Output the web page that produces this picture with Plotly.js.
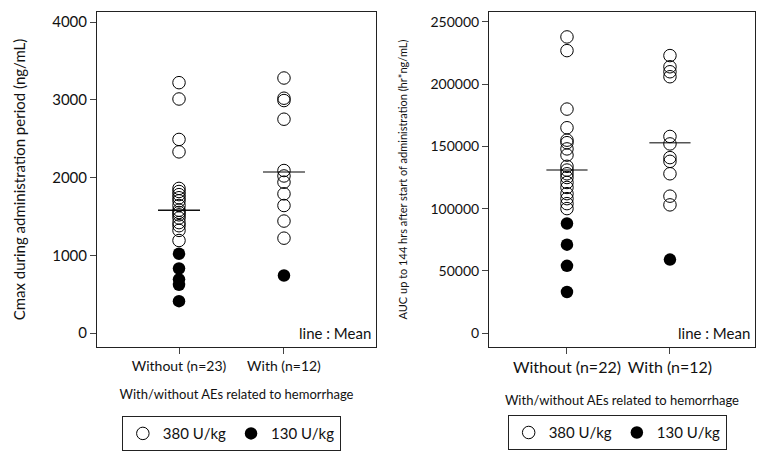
<!DOCTYPE html>
<html>
<head>
<meta charset="utf-8">
<script src="https://cdn.plot.ly/plotly-3.0.1.min.js"></script>
<style>
html, body { margin: 0; padding: 0; background: #fff; }
#chart { width: 761px; height: 456px; }
</style>
</head>
<body>
<div id="chart"></div>
<script>
// category labels
var cmaxCats = ['Without (n=23)', 'With (n=12)'];
var aucCats = ['Without (n=22)', 'With (n=12)'];
var doseNames = ['380 U/kg', '130 U/kg'];

// Cmax (ng/mL)
var cmaxWithout380 = [3220, 3010, 2490, 2330, 1860, 1820, 1780, 1740, 1700, 1640, 1580, 1550, 1520, 1480, 1420, 1380, 1320, 1190];
var cmaxWithout130 = [1020, 830, 690, 620, 410];
var cmaxWith380 = [3280, 3020, 2990, 2750, 2090, 2020, 1940, 1790, 1640, 1440, 1220];
var cmaxWith130 = [740];
var cmaxMean = [1580, 2070];

// AUC 0-144h (hr*ng/mL)
var aucWithout380 = [238000, 227000, 180000, 165000, 155000, 153000, 148000, 143000, 134000, 131000, 128000, 125000, 121000, 117000, 112000, 108000, 104000, 100000];
var aucWithout130 = [88000, 71000, 54000, 33000];
var aucWith380 = [223000, 214000, 210000, 206000, 158000, 152000, 141000, 138000, 128000, 110000, 103000];
var aucWith130 = [59000];
var aucMean = [131000, 153000];

var FONT = 'Lato, "Open Sans", sans-serif';

function xsFor(idx, vals){
	return vals.map(function(){ return idx; });
}

function pointTraces(xa, ya, legendId, open0, filled0, open1, filled1){
	var traces = [];
	traces.push({
		x: xsFor(0, open0).concat(xsFor(1, open1)),
		y: open0.concat(open1),
		xaxis: xa, yaxis: ya,
		type: 'scatter', mode: 'markers',
		name: doseNames[0],
		legend: legendId,
		marker: { symbol: 'circle-open', size: 12.5, color: '#000', line: { width: 1, color: '#000' } }
	});
	traces.push({
		x: xsFor(0, filled0).concat(xsFor(1, filled1)),
		y: filled0.concat(filled1),
		xaxis: xa, yaxis: ya,
		type: 'scatter', mode: 'markers',
		name: doseNames[1],
		legend: legendId,
		marker: { symbol: 'circle', size: 12.5, color: '#000' }
	});
	return traces;
}

// short horizontal segment at each group mean
function meanTraces(xa, ya, means, colors){
	return means.map(function(m, i){
		return {
			x: [i - 0.2, i + 0.2],
			y: [m, m],
			xaxis: xa, yaxis: ya,
			type: 'scatter', mode: 'lines',
			showlegend: false,
			hoverinfo: 'skip',
			line: { color: colors[i], width: 1.5 }
		};
	});
}

var data = []
	.concat(meanTraces('x', 'y', cmaxMean, ['#111', '#555']))
	.concat(pointTraces('x', 'y', 'legend', cmaxWithout380, cmaxWithout130, cmaxWith380, cmaxWith130))
	.concat(meanTraces('x2', 'y2', aucMean, ['#555', '#555']))
	.concat(pointTraces('x2', 'y2', 'legend2', aucWithout380, aucWithout130, aucWith380, aucWith130));

var boxAxis = {
	showline: true, mirror: true, linecolor: '#222', linewidth: 1,
	showgrid: false, zeroline: false,
	ticks: 'outside', ticklen: 6, tickcolor: '#444',
	tickfont: { family: FONT, size: 15, color: '#111' }
};

function axis(extra){
	return Object.assign({}, boxAxis, extra);
}

var xTitle = 'With/without AEs related to hemorrhage';

var legendBase = {
	orientation: 'h',
	font: { family: FONT, size: 15, color: '#111' },
	bordercolor: '#222', borderwidth: 1,
	bgcolor: '#fff',
	xanchor: 'center', yanchor: 'middle',
	itemwidth: 30, tracegroupgap: 0
};

var layout = {
	width: 761, height: 456,
	margin: { l: 0, r: 0, t: 0, b: 0 },
	paper_bgcolor: '#fff', plot_bgcolor: '#fff',
	font: { family: FONT, color: '#111' },
	xaxis: axis({
		domain: [0.1275, 0.494], range: [-0.781, 1.876],
		tickvals: [0, 1], ticktext: cmaxCats,
		tickfont: { family: FONT, size: 14, color: '#111' },
		title: { text: xTitle, font: { family: FONT, size: 13 }, standoff: 17 }
	}),
	yaxis: axis({
		domain: [0.239, 0.9737], range: [-180, 4129],
		tickvals: [0, 1000, 2000, 3000, 4000],
		title: { text: 'Cmax during administration period (ng/mL)', font: { family: FONT, size: 15 }, standoff: 22 }
	}),
	xaxis2: axis({
		anchor: 'y2',
		domain: [0.6426, 0.992], range: [-0.757, 1.825],
		tickvals: [0, 1], ticktext: aucCats,
		tickfont: { family: FONT, size: 16, color: '#111' },
		title: { text: xTitle, font: { family: FONT, size: 13 }, standoff: 20 }
	}),
	yaxis2: axis({
		anchor: 'x2',
		domain: [0.239, 0.9737], range: [-11254, 258039],
		tickvals: [0, 50000, 100000, 150000, 200000, 250000],
		tickformat: 'd',
		tickfont: { family: FONT, size: 14, color: '#111' },
		title: { text: 'AUC up to 144 hrs after start of administration (hr*ng/mL)', font: { family: FONT, size: 11 }, standoff: 20 }
	}),
	legend: Object.assign({}, legendBase, { x: 0.304, y: 0.049 }),
	legend2: Object.assign({}, legendBase, { x: 0.811, y: 0.051 }),
	annotations: [{
		text: 'line : Mean', xref: 'x domain', yref: 'y domain', x: 0.99, y: 0.01,
		xanchor: 'right', yanchor: 'bottom', showarrow: false,
		font: { family: FONT, size: 15, color: '#111' }
	}, {
		text: 'line : Mean', xref: 'x2 domain', yref: 'y2 domain', x: 0.99, y: 0.01,
		xanchor: 'right', yanchor: 'bottom', showarrow: false,
		font: { family: FONT, size: 15, color: '#111' }
	}],
	showlegend: true
};

Plotly.newPlot('chart', data, layout, { displayModeBar: false, staticPlot: true });
</script>
</body>
</html>
